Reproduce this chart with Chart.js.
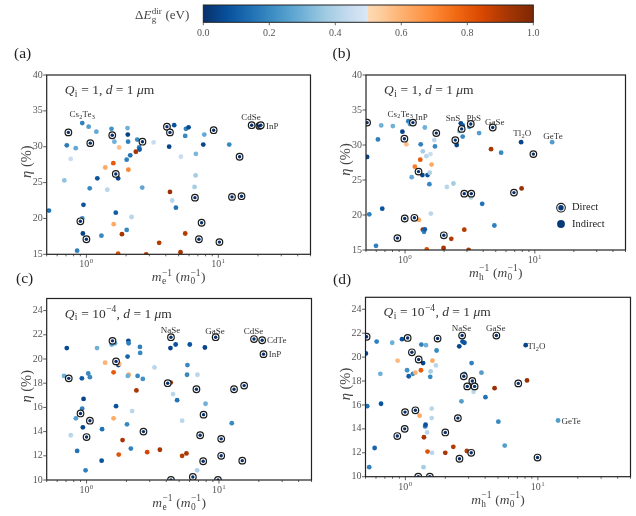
<!DOCTYPE html>
<html lang="en">
<head>
  <meta charset="UTF-8">
  <title>Efficiency vs inverse effective mass</title>
  <script src="https://cdn.jsdelivr.net/npm/chart.js"></script>
  <style>
    body { margin: 0; background: #ffffff; width: 636px; height: 516px; position: relative; overflow: hidden; }
    canvas { position: absolute; }
  </style>
</head>
<body>
<canvas id="cbar" width="460" height="46" style="left:100px; top:0px;"></canvas>
<canvas id="pa" width="318" height="252" style="left:0px; top:34px;"></canvas>
<canvas id="pb" width="318" height="252" style="left:318px; top:34px;"></canvas>
<canvas id="pc" width="318" height="250" style="left:0px; top:266px;"></canvas>
<canvas id="pd" width="318" height="250" style="left:318px; top:266px;"></canvas>

<script>
  // ---- data ----
  // gap = direct-gap offset (eV); 0 means a direct-gap material (ringed marker)

  // (a) Qi = 1, x = 1/m_e
  const aMe = [0.52,0.73,0.93,1.04,0.71,0.83,1.07,0.76,0.68,1.19,
               1.55,1.57,1.63,1.77,2.05,2.06,2.07,2.43,2.66,2.51,
               2.53,2.37,3.23,2.15,2.02,1.60,1.39,2.08,1.67,1.74,
               1.21,1.06,1.44,2.65,0.95,0.93,0.90,0.94,1.00,0.85,
               1.30,1.67,1.61,2.20,2.02,1.86,1.74,2.84,3.56,5.17,
               5.61,4.30,4.47,4.77,4.08,4.30,4.63,4.24,5.20,5.68,
               5.95,5.61,6.76,6.73,6.61,6.65,7.13,7.47,7.83,7.69,
               9.22,10.2,12.1,12.7,14.5,15.0,17.9,20.5,21.0];
  const aEta = [21.1,32.0,33.3,32.8,30.2,29.8,30.5,28.3,25.3,32.1,
                32.5,31.6,30.7,29.9,32.6,31.7,30.7,31.0,30.7,29.9,
                29.6,29.3,30.6,28.8,28.2,27.7,27.1,26.8,26.2,25.6,
                25.6,24.2,24.0,24.3,21.9,20.0,19.6,17.9,17.1,15.5,
                17.6,20.8,19.2,20.2,18.4,17.8,15.1,15.0,16.6,15.3,
                17.9,23.7,22.5,21.5,32.8,32.0,33.0,30.0,28.6,32.5,
                32.7,31.5,29.0,26.0,24.4,22.9,17.1,19.4,31.7,30.3,
                32.3,16.7,30.3,23.0,28.6,23.1,33.0,32.9,33.0];
  const aGap = [0.15,0,0.18,0.25,0.17,0.28,0,0.45,0.35,0.28,
                0.22,0,0.30,0.57,0.30,0.04,0.18,0.20,0,0.17,
                0.10,0.92,0.45,0.15,0.18,0.80,0.62,0.70,0,0.05,
                0.08,0.20,0.42,0.27,0.08,0.20,0,0.05,0,0.18,
                0.20,0.10,0.62,0.42,0.20,0.92,0.82,0.90,0.90,0.92,
                0.90,0.95,0.42,0.15,0,0,0.08,0.05,0.45,0.18,
                0.06,0.20,0.32,0.38,0.38,0,0,0,0.28,0.05,
                0,0,0.20,0,0,0,0,0,0];
  const aLabels = [['Cs_2Te_3', 0.93, 34.5], ['CdSe', 17.7, 34.1], ['InP', 25.7, 32.9]];

  // (b) Qi = 1, x = 1/m_h
  const bMh = [0.51,0.51,0.655,0.805,0.618,0.954,0.988,1.06,1.09,1.15,
               1.024,1.32,1.42,1.74,1.68,1.70,1.37,1.46,1.57,1.31,
               1.60,1.19,1.27,1.36,1.49,1.125,1.55,1.54,2.10,2.36,
               2.44,2.50,2.69,2.78,2.73,2.62,2.78,3.21,3.13,3.72,
               4.74,4.60,5.50,2.86,3.24,3.22,3.93,6.91,7.91,7.84,
               9.75,13.6,4.88,0.53,0.667,0.994,1.18,1.28,0.873,0.597,
               1.37,1.40,1.42,1.58,1.99,1.98,2.27,2.86,1.47,3.09];
  const bEta = [33.2,28.3,32.8,32.7,30.8,31.9,30.9,33.4,33.0,33.2,
                30.1,30.1,32.5,31.7,30.7,29.8,29.1,28.4,28.7,27.9,
                27.2,26.9,26.2,25.7,25.7,25.4,26.05,24.4,24.0,24.5,
                30.7,30.0,33.1,32.8,32.3,32.0,31.2,33.0,32.6,31.7,
                32.5,29.4,28.9,23.05,23.05,22.5,21.6,23.2,23.8,30.4,
                28.7,30.4,18.5,20.1,20.9,19.5,19.6,19.3,16.7,15.6,
                17.9,17.6,17.95,20.2,17.1,15.3,16.6,17.9,15.1,15.0];
  const bGap = [0,0.05,0.30,0.30,0.18,0.05,0,0.18,0.25,0,
                0.57,0.18,0.30,0,0.42,0.20,0.38,0.42,0.45,0.80,
                0.62,0.72,0,0.05,0.08,0.28,0.40,0.20,0.42,0.38,
                0,0.05,0.05,0.10,0,0.32,0.20,0,0.18,0.25,
                0,0.92,0.20,0,0,0.42,0.15,0,0.95,0.05,
                0,0.25,0.18,0.18,0.08,0,0,0.62,0,0.18,
                0.92,0.18,0.10,0.42,0,0.92,0.90,0.90,0.82,0.90];
  const bLabels = [['Cs_2Te_3', 0.92, 34.5], ['InP', 1.34, 33.96], ['SnS', 2.34, 33.9], ['PbS', 3.39, 33.9],
                   ['GaSe', 4.92, 33.3], ['Tl_2O', 8.0, 31.7], ['GeTe', 13.8, 31.3]];

  // (c) Qi = 1e-4, x = 1/m_e
  const cMe = [0.709,0.676,0.734,0.922,1.03,1.06,1.20,1.38,1.55,1.57,
               1.64,1.67,1.74,1.77,1.60,2.07,2.08,2.04,2.08,2.05,
               2.53,2.54,2.43,2.66,2.38,3.26,1.67,0.949,0.927,0.900,
               0.830,0.760,0.938,1.06,1.00,0.849,0.983,1.31,1.30,1.60,
               2.21,2.02,1.87,2.16,1.75,2.69,2.87,3.58,4.10,4.32,
               4.50,4.83,4.34,4.30,4.71,6.02,7.83,5.27,5.27,5.68,
               5.78,5.74,6.88,6.76,7.65,7.21,7.92,6.84,6.35,4.34,
               9.83,7.60,10.4,10.4,9.44,12.5,13.0,15.5,15.0,18.4,
               21.2,21.7];
  const cEta = [20.9,18.6,18.4,18.4,18.8,18.5,20.9,19.7,21.2,21.5,
                21.3,19.8,19.5,19.6,18.9,21.5,21.3,20.2,18.7,18.6,
                21.0,20.5,18.6,18.35,17.4,19.3,16.1,16.7,15.9,15.5,
                15.1,13.7,14.35,14.9,13.55,12.4,10.8,14.2,11.6,15.1,
                15.7,14.6,13.3,12.6,12.1,14.0,12.3,12.5,18.0,18.05,
                17.1,16.6,21.8,20.9,21.2,21.2,20.95,14.9,12.0,12.2,
                19.5,18.7,18.7,17.5,15.4,13.7,16.3,10.8,10.25,10.0,
                10.0,11.55,13.4,12.0,21.8,14.7,17.5,17.8,11.6,21.65,
                21.55,20.4];
  const cGap = [0.06,0.30,0,0.10,0.20,0.20,0.30,0.60,0.28,0,
                0.28,0,0.05,0.58,0.80,0.05,0.18,0.12,0.62,0.30,
                0.18,0.20,0.20,0.22,0.92,0.42,0.08,0.05,0.18,0,
                0.25,0.42,0.05,0,0,0.15,0.18,0.15,0.08,0.62,
                0.42,0.20,0.92,0.18,0.82,0,0.85,0.92,0,0.95,
                0.42,0.15,0,0.05,0.08,0.08,0.05,0.42,0.90,0.92,
                0.20,0.20,0.42,0,0,0,0.30,0.40,0,0,
                0,0,0,0,0,0.20,0,0,0,0,
                0,0];
  const cLabels = [['NaSe', 4.31, 22.4], ['GaSe', 9.33, 22.35], ['CdSe', 18.2, 22.3],
                   ['CdTe', 27.3, 21.55], ['InP', 26.5, 20.4]];

  // (d) Qi = 1e-4, x = 1/m_h
  const dMh = [0.51,0.503,0.607,0.795,0.647,0.515,0.655,0.586,0.533,0.943,
               1.04,1.12,0.874,1.03,1.06,1.14,1.19,1.26,1.36,1.32,
               1.31,1.43,1.60,1.70,1.55,1.54,1.75,1.72,1.58,1.58,
               1.46,1.41,1.42,1.38,1.47,1.59,1.37,0.994,1.19,1.28,
               0.988,0.869,1.25,1.53,2.00,2.00,2.30,2.49,2.56,2.65,
               2.68,2.55,2.70,2.79,2.76,2.79,2.93,3.16,3.20,3.33,
               3.27,2.91,3.14,3.75,4.02,4.71,4.86,5.03,5.62,7.11,
               8.09,8.28,9.94,14.2];
  const dEta = [21.7,20.3,21.3,21.2,18.6,15.9,16.1,12.4,10.8,21.5,
                21.6,20.4,19.7,18.9,18.4,18.6,18.7,19.8,19.5,21.05,
                18.9,21.0,19.7,19.3,18.8,18.35,21.55,20.55,15.7,14.9,
                13.7,14.2,14.35,13.3,12.1,12.0,10.8,15.4,15.55,15.1,
                14.0,13.4,10.0,10.0,13.7,12.0,12.5,14.9,11.5,16.3,
                21.8,20.9,21.3,21.2,18.4,18.6,17.55,19.5,18.0,17.55,
                17.1,12.15,12.0,18.7,16.65,17.4,21.8,14.6,12.6,17.8,
                21.0,18.05,11.6,14.7];
  const dGap = [0,0.05,0.18,0.30,0.30,0.15,0.08,0.12,0.18,0.08,
                0,0,0.58,0.22,0.10,0.20,0.60,0,0.05,0.18,
                0.80,0.30,0.62,0.42,0.38,0.20,0,0.20,0.42,0.42,
                0.42,0.18,0.08,0.92,0.82,0.42,0.38,0,0,0.62,
                0,0,0,0,0,0.92,0.90,0,0,0.25,
                0,0.05,0.08,0.08,0,0.20,0,0.18,0,0,
                0.42,0.90,0,0.25,0.15,0.95,0,0.20,0.25,0,
                0.05,0.95,0,0.25];
  const dLabels = [['NaSe', 2.65, 22.4], ['GaSe', 4.81, 22.4], ['Tl_2O', 9.76, 20.95], ['GeTe', 17.8, 14.66]];

  const CBAR_MIN = 0, CBAR_MAX = 1;

  // ---- colour map: Blues (dark -> light) below 0.5, Oranges (light -> dark) above ----
  const BLUES = ['#f7fbff','#deebf7','#c6dbef','#9ecae1','#6baed6','#4292c6','#2171b5','#08519c','#08306b'];
  const ORANGES = ['#fff5eb','#fee6ce','#fdd0a2','#fdae6b','#fd8d3c','#f16913','#d94801','#a63603','#7f2704'];

  function hexRgb(h) {
    return [parseInt(h.slice(1, 3), 16), parseInt(h.slice(3, 5), 16), parseInt(h.slice(5, 7), 16)];
  }
  function sample(stops, t) {
    t = Math.min(1, Math.max(0, t));
    const p = t * (stops.length - 1);
    const i = Math.min(stops.length - 2, Math.floor(p));
    const f = p - i;
    const a = hexRgb(stops[i]), b = hexRgb(stops[i + 1]);
    const c = a.map((v, k) => Math.round(v + (b[k] - v) * f));
    return 'rgb(' + c.join(',') + ')';
  }
  function gapColor(v) {
    if (v < 0.5) return sample(BLUES, 1 - 0.85 * (v / 0.5));
    return sample(ORANGES, 0.2 + 0.8 * ((v - 0.5) / 0.5));
  }

  // ---- text helpers (sub/superscripts) ----
  const SERIF = '"Liberation Serif", "DejaVu Serif", serif';
  Chart.defaults.font.family = SERIF;

  function fontOf(size, it) { return (it ? 'italic ' : '') + size + 'px ' + SERIF; }

  function richWidth(ctx, toks, size) {
    let w = 0;
    for (const k of toks) {
      ctx.font = fontOf(size, k.it);
      w += ctx.measureText(k.t).width;
      ctx.font = fontOf(size * 0.7, false);
      let s = 0;
      if (k.sub) s = Math.max(s, ctx.measureText(k.sub).width);
      if (k.sup) s = Math.max(s, ctx.measureText(k.sup).width);
      if (s) w += s + size * 0.06;
    }
    return w;
  }

  function drawRich(ctx, toks, x, y, size, align, color) {
    ctx.save();
    ctx.fillStyle = color;
    ctx.textAlign = 'left';
    ctx.textBaseline = 'alphabetic';
    let cx = x;
    const w = richWidth(ctx, toks, size);
    if (align === 'center') cx -= w / 2;
    else if (align === 'right') cx -= w;
    for (const k of toks) {
      ctx.font = fontOf(size, k.it);
      ctx.fillText(k.t, cx, y);
      cx += ctx.measureText(k.t).width;
      ctx.font = fontOf(size * 0.7, false);
      let s = 0;
      if (k.sub) { ctx.fillText(k.sub, cx + size * 0.03, y + size * 0.22); s = Math.max(s, ctx.measureText(k.sub).width); }
      if (k.sup) { ctx.fillText(k.sup, cx + size * 0.03, y - size * 0.42); s = Math.max(s, ctx.measureText(k.sup).width); }
      if (s) cx += s + size * 0.06;
    }
    ctx.restore();
  }

  function parseSub(s) {
    const out = [];
    let cur = '';
    for (let i = 0; i < s.length; i++) {
      if (s[i] === '_') { out.push({ t: cur, sub: s[i + 1] }); cur = ''; i++; }
      else cur += s[i];
    }
    if (cur) out.push({ t: cur });
    return out;
  }

  const Q_ONE = [{ t: 'Q', it: 1, sub: 'i' }, { t: ' = 1, ' }, { t: 'd', it: 1 }, { t: ' = 1 ' }, { t: 'μ', it: 1 }, { t: 'm' }];
  const Q_LOW = [{ t: 'Q', it: 1, sub: 'i' }, { t: ' = 10', sup: '−4' }, { t: ', ' }, { t: 'd', it: 1 }, { t: ' = 1 ' }, { t: 'μ', it: 1 }, { t: 'm' }];
  const TITLE_E = [{ t: 'm', it: 1, sub: 'e', sup: '−1' }, { t: ' (' }, { t: 'm', it: 1, sub: '0', sup: '−1' }, { t: ')' }];
  const TITLE_H = [{ t: 'm', it: 1, sub: 'h', sup: '−1' }, { t: ' (' }, { t: 'm', it: 1, sub: '0', sup: '−1' }, { t: ')' }];
  const TITLE_Y = [{ t: 'η', it: 1 }, { t: ' (%)' }];
  const TITLE_CBAR = [{ t: 'Δ' }, { t: 'E', it: 1, sub: 'g', sup: 'dir' }, { t: ' (eV)' }];

  // ---- panel decoration plugin ----
  function line(ctx, x1, y1, x2, y2) {
    ctx.beginPath(); ctx.moveTo(x1, y1); ctx.lineTo(x2, y2); ctx.stroke();
  }

  function decoPlugin(p) {
    return {
      id: 'deco',
      afterDraw(chart) {
        const { ctx, chartArea: a, scales: { x, y } } = chart;
        ctx.save();
        // frame
        ctx.strokeStyle = '#222';
        ctx.lineWidth = 1.2;
        ctx.strokeRect(a.left, a.top, a.right - a.left, a.bottom - a.top);
        // ticks
        ctx.strokeStyle = '#333';
        ctx.lineWidth = 0.8;
        for (let e = -1; e <= 2; e++) {
          for (let k = 1; k < 10; k++) {
            const v = k * Math.pow(10, e);
            if (v < x.min * 0.999 || v > x.max * 1.001) continue;
            const px = x.getPixelForValue(v);
            line(ctx, px, a.bottom, px, a.bottom + (k === 1 ? 3.5 : 2));
            if (k === 1) drawRich(ctx, [{ t: '10', sup: String(e) }], px, a.bottom + 13, 10, 'center', '#555');
          }
        }
        y.ticks.forEach(t => {
          const py = y.getPixelForValue(t.value);
          line(ctx, a.left - 3.5, py, a.left, py);
        });
        // titles
        drawRich(ctx, p.xt, (a.left + a.right) / 2, a.bottom + 27, 13.5, 'center', '#444');
        ctx.save();
        ctx.translate(a.left - 16, (a.top + a.bottom) / 2 - 3);
        ctx.rotate(-Math.PI / 2);
        drawRich(ctx, TITLE_Y, 0, 0, 14.5, 'center', '#444');
        ctx.restore();
        drawRich(ctx, p.q, a.left + 18, a.top + 19, 13.5, 'left', '#333');
        // panel tag
        ctx.fillStyle = '#222';
        ctx.font = fontOf(15.5, false);
        ctx.textAlign = 'left';
        ctx.textBaseline = 'middle';
        ctx.fillText(p.tag, p.tagX, p.tagY);
        // material names
        ctx.textBaseline = 'alphabetic';
        p.labels.forEach(([txt, lx, ly]) => {
          drawRich(ctx, parseSub(txt), x.getPixelForValue(lx), y.getPixelForValue(ly) + 3, 9, 'center', '#333');
        });
        // legend
        if (p.legend) {
          const lx = a.left + 195, ly1 = a.top + 132.7, ly2 = a.top + 149;
          ctx.beginPath(); ctx.arc(lx, ly1, 4.3, 0, Math.PI * 2);
          ctx.fillStyle = '#fff'; ctx.fill();
          ctx.strokeStyle = '#1b1b1b'; ctx.lineWidth = 1.1; ctx.stroke();
          ctx.beginPath(); ctx.arc(lx, ly1, 2.7, 0, Math.PI * 2);
          ctx.fillStyle = gapColor(0.02); ctx.fill();
          ctx.beginPath(); ctx.arc(lx, ly2, 3.9, 0, Math.PI * 2);
          ctx.fillStyle = gapColor(0.02); ctx.fill();
          ctx.fillStyle = '#222';
          ctx.font = fontOf(10.5, false);
          ctx.textBaseline = 'middle';
          ctx.fillText('Direct', lx + 11, ly1);
          ctx.fillText('Indirect', lx + 11, ly2);
        }
        ctx.restore();
      }
    };
  }

  function makePanel(p) {
    const pts = p.x.map((v, i) => ({ x: v, y: p.y[i], g: p.g[i] }));
    const ind = pts.filter(q => q.g > 0);
    const rings = pts.filter(q => q.g === 0).map(q => ({ x: q.x, y: q.y }));
    const cores = pts.filter(q => q.g === 0).map(q => ({ x: q.x, y: q.y }));
    new Chart(document.getElementById(p.id), {
      type: 'scatter',
      data: {
        datasets: [
          { data: ind, pointRadius: 2.4, pointBackgroundColor: ind.map(q => gapColor(q.g)), pointBorderWidth: 0, clip: 0, order: 3 },
          { data: rings, pointRadius: 3.3, pointBackgroundColor: '#ffffff', pointBorderColor: '#1b1b1b', pointBorderWidth: 1.2, clip: 0, order: 2 },
          { data: cores, pointRadius: 1.7, pointBackgroundColor: gapColor(0), pointBorderColor: gapColor(0), pointBorderWidth: 0, clip: 0, order: 1 }
        ]
      },
      options: {
        responsive: false,
        animation: false,
        events: [],
        layout: { padding: p.pad },
        plugins: { legend: { display: false }, tooltip: { enabled: false } },
        scales: {
          x: {
            type: 'logarithmic', min: 0.5, max: 50,
            grid: { display: false, drawTicks: false }, border: { display: false },
            ticks: { display: false },
            afterFit: s => { s.height = p.xh; }
          },
          y: {
            min: p.ymin, max: p.ymax,
            grid: { display: false, drawTicks: false }, border: { display: false },
            ticks: { stepSize: p.step, includeBounds: false, padding: 4, color: '#555', font: { size: 10 } },
            afterFit: s => { s.width = p.yw; }
          }
        }
      },
      plugins: [decoPlugin(p)]
    });
  }

  makePanel({ id: 'pa', tag: '(a)', tagX: 14, tagY: 19.5, x: aMe, y: aEta, g: aGap, labels: aLabels,
              q: Q_ONE, xt: TITLE_E, ymin: 15, ymax: 40, step: 5,
              pad: { left: 0, top: 41, right: 7.5, bottom: 0 }, yw: 46.7, xh: 31.7, legend: false });
  makePanel({ id: 'pb', tag: '(b)', tagX: 14.5, tagY: 19.5, x: bMh, y: bEta, g: bGap, labels: bLabels,
              q: Q_ONE, xt: TITLE_H, ymin: 15, ymax: 40, step: 5,
              pad: { left: 0, top: 41, right: 10.5, bottom: 0 }, yw: 48, xh: 36, legend: true });
  makePanel({ id: 'pc', tag: '(c)', tagX: 16, tagY: 13, x: cMe, y: cEta, g: cGap, labels: cLabels,
              q: Q_LOW, xt: TITLE_E, ymin: 10, ymax: 25, step: 2,
              pad: { left: 0, top: 32.5, right: 6.5, bottom: 0 }, yw: 46.7, xh: 36, legend: false });
  makePanel({ id: 'pd', tag: '(d)', tagX: 15, tagY: 14, x: dMh, y: dEta, g: dGap, labels: dLabels,
              q: Q_LOW, xt: TITLE_H, ymin: 10, ymax: 25, step: 2,
              pad: { left: 0, top: 31.3, right: 5.5, bottom: 0 }, yw: 47.5, xh: 39.3, legend: false });

  // ---- colour bar ----
  new Chart(document.getElementById('cbar'), {
    type: 'scatter',
    data: { datasets: [] },
    options: {
      responsive: false,
      animation: false,
      events: [],
      layout: { padding: { left: 103.3, right: 26.7, top: 5, bottom: 0 } },
      plugins: { legend: { display: false }, tooltip: { enabled: false } },
      scales: {
        x: {
          type: 'linear', min: CBAR_MIN, max: CBAR_MAX,
          grid: { display: false, drawTicks: false }, border: { display: false },
          ticks: { stepSize: 0.2, padding: 5, color: '#555', font: { size: 10 }, callback: v => v.toFixed(1) },
          afterFit: s => { s.height = 46 - 22.3; }
        },
        y: { display: false, min: 0, max: 1 }
      }
    },
    plugins: [{
      id: 'bar',
      beforeDatasetsDraw(chart) {
        const { ctx, chartArea: a, scales: { x } } = chart;
        const grad = ctx.createLinearGradient(a.left, 0, a.right, 0);
        for (let i = 0; i <= 200; i++) {
          const v = i / 200;
          if (i === 100) grad.addColorStop(0.4999, gapColor(0.4999));
          grad.addColorStop(v, gapColor(v));
        }
        ctx.save();
        ctx.fillStyle = grad;
        ctx.fillRect(a.left, a.top, a.right - a.left, a.bottom - a.top);
        ctx.strokeStyle = '#222';
        ctx.lineWidth = 1;
        ctx.strokeRect(a.left, a.top, a.right - a.left, a.bottom - a.top);
        ctx.strokeStyle = '#444';
        ctx.lineWidth = 0.8;
        x.ticks.forEach(t => {
          const px = x.getPixelForValue(t.value);
          line(ctx, px, a.bottom, px, a.bottom + 3);
        });
        drawRich(ctx, TITLE_CBAR, a.left - 14, 19.3, 13, 'right', '#444');
        ctx.restore();
      }
    }]
  });
</script>
</body>
</html>
